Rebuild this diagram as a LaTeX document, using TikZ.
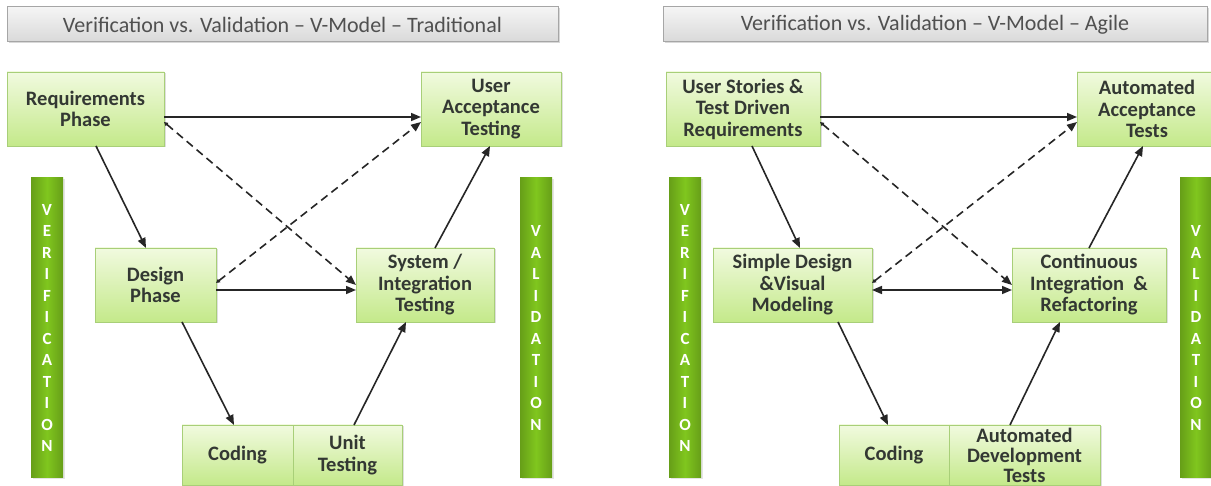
\documentclass[tikz,border=0pt]{standalone}
\usepackage{fontspec}
\setmainfont{Carlito}
\usetikzlibrary{arrows.meta,shadows}
\definecolor{cajaclara}{HTML}{F1FADF}
\definecolor{cajaoscura}{HTML}{C4E98A}
\definecolor{bordecaja}{HTML}{A8CF78}
\definecolor{textocaja}{HTML}{333833}
\definecolor{barraverde}{HTML}{80C61E}
\definecolor{titulogris}{HTML}{505050}
\tikzset{
  fase/.style={draw=bordecaja, line width=0.8pt, top color=cajaclara, bottom color=cajaoscura,
    drop shadow={shadow xshift=1.5pt, shadow yshift=-1.5pt, opacity=0.25},
    text=textocaja, font=\bfseries\fontsize{20.5}{21.5}\selectfont, align=center,
    inner sep=0pt, outer sep=0pt, minimum height=74pt},
  barra/.style={left color=barraverde!80!black, right color=barraverde!80!black, middle color=barraverde,
    drop shadow={shadow xshift=1.5pt, shadow yshift=-1.5pt, opacity=0.2},
    minimum width=32pt, minimum height=300pt, inner sep=0pt, text=white, align=center,
    font=\bfseries\fontsize{17}{21.5}\selectfont},
  titulo/.style={draw=black!35, line width=1pt, top color=black!4, bottom color=black!15,
    drop shadow={shadow xshift=1.5pt, shadow yshift=-1.5pt, opacity=0.3},
    minimum height=35pt, inner sep=0pt, text=titulogris, font=\fontsize{22}{24}\selectfont},
  flecha/.style={line width=1.6pt, draw=black!85, -{Triangle[length=10pt,width=8pt]}},
  doble/.style={flecha, {Triangle[length=10pt,width=8pt]}-{Triangle[length=10pt,width=8pt]}},
  discont/.style={flecha, dash pattern=on 8pt off 5pt,
    {Triangle[length=4pt,width=4pt]}-{Triangle[length=10pt,width=8pt]}}
}
\begin{document}
\begin{tikzpicture}[x=1pt, y=1pt]
    \useasboundingbox[fill=white] (0,0) rectangle (1211,486);

    % Tradicional
    \node[titulo, minimum width=551pt] (titA) at (282.5,461.5) {Verification vs. Validation -- V-Model -- Traditional};

    \node[barra] (verA) at (47,158) {V\\E\\R\\I\\F\\I\\C\\A\\T\\I\\O\\N};
    \node[barra] (valA) at (536,158) {V\\A\\L\\I\\D\\A\\T\\I\\O\\N};

    \node[fase, minimum width=157pt] (req) at (85.5,377) {Requirements\\Phase};
    \node[fase, minimum width=140pt] (uat) at (491,377) {User\\Acceptance\\Testing};
    \node[fase, minimum width=121pt] (dis) at (155.5,201) {Design\\Phase};
    \node[fase, minimum width=138pt] (sis) at (425,201) {System /\\Integration\\Testing};
    \node[fase, minimum width=111pt, minimum height=60pt] (cod) at (237.5,31) {Coding};
    \node[fase, minimum width=109pt, minimum height=60pt] (uni) at (347.5,31) {Unit\\Testing};

    \draw[flecha] ([yshift=-8pt]req.east) -- ([yshift=-8pt]uat.west);
    \draw[flecha] ([xshift=10.5pt]req.south) -- ([xshift=-9.5pt]dis.north);
    \draw[flecha] ([xshift=26.5pt]dis.south) -- ([xshift=-3.5pt]cod.north);
    \draw[flecha] ([xshift=6.5pt]uni.north) -- ([xshift=-19pt]sis.south);
    \draw[flecha] ([xshift=10pt]sis.north) -- ([xshift=-1pt]uat.south);
    \draw[flecha] ([yshift=-5pt]dis.east) -- ([yshift=-5pt]sis.west);
    \draw[discont] ([yshift=-13pt]req.east) -- (sis.west);
    \draw[discont] ([yshift=2pt]dis.east) -- ([yshift=-13pt]uat.west);

    % Agil
    \node[titulo, minimum width=544pt] (titB) at (935,461.5) {Verification vs. Validation -- V-Model -- Agile};

    \node[barra] (verB) at (685,158) {V\\E\\R\\I\\F\\I\\C\\A\\T\\I\\O\\N};
    \node[barra] (valB) at (1196,158) {V\\A\\L\\I\\D\\A\\T\\I\\O\\N};

    \node[fase, minimum width=154pt] (his) at (743,377) {User Stories \&\\Test Driven\\Requirements};
    \node[fase, minimum width=140pt] (aut) at (1147,377) {Automated\\Acceptance\\Tests};
    \node[fase, minimum width=159pt] (sim) at (792.5,201) {Simple Design\\\&Visual\\Modeling};
    \node[fase, minimum width=154pt] (con) at (1089,201) {Continuous\\Integration~~\&\\Refactoring};
    \node[fase, minimum width=110pt, minimum height=60pt] (codB) at (894,31) {Coding};
    \node[fase, minimum width=151pt, minimum height=60pt, font=\bfseries\fontsize{20.5}{20}\selectfont] (adt) at (1024.5,31) {Automated\\Development\\Tests};

    \draw[flecha] ([yshift=-8pt]his.east) -- ([yshift=-8pt]aut.west);
    \draw[flecha] ([xshift=9pt]his.south) -- ([xshift=7.5pt]sim.north);
    \draw[flecha] ([xshift=45.5pt]sim.south) -- ([xshift=-6pt]codB.north);
    \draw[flecha] ([xshift=-14.5pt]adt.north) -- ([xshift=-29pt]con.south);
    \draw[flecha] (con.north) -- ([xshift=-4pt]aut.south);
    \draw[doble] ([yshift=-5pt]sim.east) -- ([yshift=-5pt]con.west);
    \draw[discont] ([yshift=-13pt]his.east) -- (con.west);
    \draw[discont] ([yshift=2pt]sim.east) -- ([yshift=-13pt]aut.west);
\end{tikzpicture}
\end{document}
